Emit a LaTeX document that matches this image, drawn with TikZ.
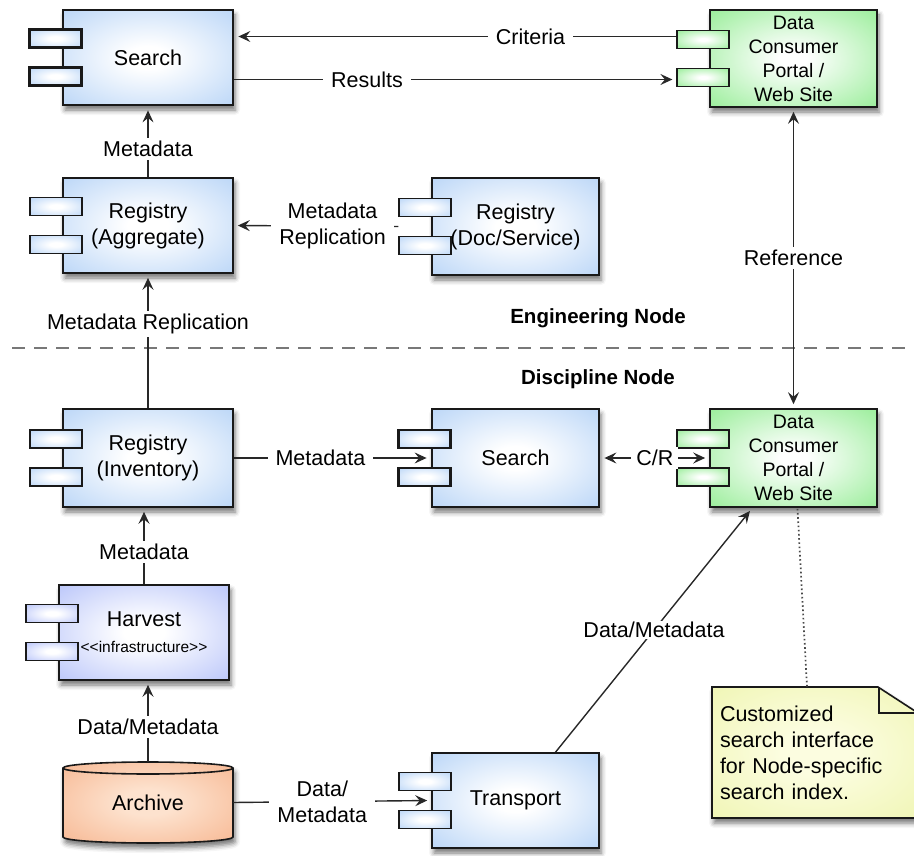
\documentclass[tikz,border=0pt]{standalone}
\usepackage{fontspec}
\setmainfont{Liberation Sans}
\usetikzlibrary{calc,arrows.meta,shadows,shadows.blur}

\definecolor{compblue}{RGB}{160,198,244}
\definecolor{compgreen}{RGB}{122,232,122}
\definecolor{complav}{RGB}{160,176,248}
\definecolor{comporange}{RGB}{244,166,122}
\definecolor{orangein}{RGB}{253,226,206}
\definecolor{noteyellow}{RGB}{234,242,160}
\definecolor{notein}{RGB}{252,253,224}
\definecolor{boxline}{RGB}{25,25,25}
\definecolor{connc}{RGB}{40,40,40}
\definecolor{sepc}{RGB}{120,120,120}

\pgfdeclareradialshading{blueshade}{\pgfpoint{0bp}{0bp}}{color(0bp)=(white); color(6bp)=(white); color(48bp)=(compblue); color(100bp)=(compblue)}
\pgfdeclareradialshading{greenshade}{\pgfpoint{0bp}{0bp}}{color(0bp)=(white); color(4bp)=(white); color(46bp)=(compgreen); color(100bp)=(compgreen)}
\pgfdeclareradialshading{lavshade}{\pgfpoint{0bp}{0bp}}{color(0bp)=(white); color(6bp)=(white); color(48bp)=(complav); color(100bp)=(complav)}
\pgfdeclareradialshading{orangeshade}{\pgfpoint{0bp}{0bp}}{color(0bp)=(orangein); color(8bp)=(orangein); color(48bp)=(comporange); color(100bp)=(comporange)}
\pgfdeclareradialshading{yellowshade}{\pgfpoint{0bp}{0bp}}{color(0bp)=(notein); color(8bp)=(notein); color(50bp)=(noteyellow); color(100bp)=(noteyellow)}

\newcommand\mainfs{\fontsize{21.5}{26}\selectfont}
\newcommand\portalfs{\fontsize{19.5}{24}\selectfont}
\newcommand\smallfs{\fontsize{15.5}{17}\selectfont}
\newcommand\boldfs{\fontsize{20.5}{24}\selectfont\bfseries}

\newcommand\comptabs[3]{%
  \node[tabbox, shading=#2, line width=#3] (#1-t1) at ($(#1.west)+(-6,-19)$) {};
  \node[tabbox, shading=#2, line width=#3] (#1-t2) at ($(#1.west)+(-6,19)$) {};
}

\begin{document}
\begin{tikzpicture}[x=1pt,y=-1pt,
  boxshadow/.style={blur shadow={shadow xshift=2pt, shadow yshift=-5pt, shadow blur radius=5pt, shadow opacity=55}},
  comp/.style={draw=boxline, line width=1.6pt, minimum width=170pt, minimum height=95pt,
    inner sep=0pt, align=center, font=\mainfs, boxshadow},
  tabbox/.style={draw=boxline, minimum width=52pt, minimum height=18pt, inner sep=0pt},
  conn/.style={draw=connc, line width=1.4pt},
  tip/.tip={Stealth[length=12pt,width=11pt,inset=4.5pt]},
  arr/.style={conn, -tip, shorten >=4pt},
  darr/.style={conn, tip-tip, shorten >=4pt, shorten <=4pt},
  lab/.style={fill=white, inner xsep=8pt, inner ysep=3pt, font=\mainfs, align=center, text=black},
  seplbl/.style={font=\boldfs},
  sepline/.style={draw=sepc, line width=2pt, dash pattern=on 13pt off 9pt},
  dotline/.style={draw=connc!85, line width=1.7pt, dash pattern=on 1.6pt off 2.6pt},
  notetext/.style={text width=190pt, inner xsep=8pt, inner ysep=0pt, minimum height=131pt, align=left, font=\mainfs}
]
\useasboundingbox (0,0) rectangle (914,856);

% separator
\draw[sepline] (12,348) -- (914,348);
\node[seplbl] (eng) at (598,318) {Engineering Node};
\node[seplbl] (dis) at (598,379) {Discipline Node};

% components
\node[comp, shading=blueshade, line width=2.8pt] (s1) at (148,57.5) {Search};
\comptabs{s1}{blueshade}{2.8pt}
\node[comp, shading=blueshade] (agg) at (148,225.5) {Registry\\(Aggregate)};
\comptabs{agg}{blueshade}{1.6pt}
\node[comp, shading=blueshade, minimum width=167pt, minimum height=97pt] (doc) at (515.5,226.5) {Registry\\(Doc/Service)};
\comptabs{doc}{blueshade}{1.6pt}
\node[comp, shading=greenshade, minimum width=167pt, minimum height=97pt, font=\portalfs] (por1) at (793.5,58.5) {Data\\Consumer\\Portal /\\Web Site};
\comptabs{por1}{greenshade}{1.6pt}
\node[comp, shading=blueshade, minimum height=98pt] (inv) at (148,458) {Registry\\(Inventory)};
\comptabs{inv}{blueshade}{1.6pt}
\node[comp, shading=blueshade, line width=2.8pt, minimum width=167pt, minimum height=98pt] (s2) at (515.5,458) {Search};
\comptabs{s2}{blueshade}{2.8pt}
\node[comp, shading=greenshade, minimum width=167pt, minimum height=98pt, font=\portalfs] (por2) at (793.5,458) {Data\\Consumer\\Portal /\\Web Site};
\comptabs{por2}{greenshade}{1.6pt}
\node[comp, shading=lavshade] (harv) at (144,632.5) {Harvest\\{\smallfs <\kern0pt<infrastructure>\kern0pt>}};
\comptabs{harv}{lavshade}{1.6pt}
\node[comp, shading=blueshade, minimum width=167pt] (trans) at (515.5,800.5) {Transport};
\comptabs{trans}{blueshade}{1.6pt}

% archive cylinder
\path[boxshadow, shading=orangeshade, draw=boxline, line width=1.6pt]
  (63,768) -- (63,837) arc[start angle=180, end angle=0, x radius=85, y radius=6]
  -- (233,768) arc[start angle=0, end angle=-180, x radius=85, y radius=6] -- cycle;
\draw[boxline, line width=1.6pt] (63,768) arc[start angle=180, end angle=0, x radius=85, y radius=6];
\node[minimum width=170pt, minimum height=81pt, inner sep=0pt, font=\mainfs] (archive) at (148,802.5) {Archive};

% note
\path[boxshadow, shading=yellowshade, draw=boxline, line width=1.6pt]
  (712,687) -- (878,687) -- (918,713) -- (918,818) -- (712,818) -- cycle;
\draw[boxline, line width=1.6pt] (879,687) -- (879,713) -- (918,713);
\node[notetext] (note) at (815,752.5) {Customized\\search interface\\for Node-specific\\search index.};

% connectors
\draw[arr] ($(por1-t1.west)+(0,-3)$) -- node[lab, pos=0.33] {Criteria} ($(s1.east|-por1-t1.west)+(0,-3)$);
\draw[arr] ($(s1.east|-por1-t2.west)+(0,2)$) -- node[lab, pos=0.30] {Results} ($(por1-t2.west)+(0,2)$);
\draw[arr] (agg.north) -- node[lab, pos=0.4] {Metadata} (s1.south);
\draw[arr] (doc-t1.west|-doc.west) -- node[lab, pos=0.40] {Metadata\\Replication} (agg.east);
\draw[arr] (inv.north) -- node[lab, pos=0.63] {Metadata Replication} (agg.south);
\draw[arr] (inv.east) -- node[lab, pos=0.44] {Metadata} (s2.west);
\draw[darr] (s2.east) -- node[lab, inner xsep=5pt] {C/R} (por2.west);
\draw[darr] (por2.north) -- node[lab] {Reference} (por1.south);
\draw[arr] (harv.north) -- node[lab, pos=0.42] {Metadata} (harv.north|-inv.south);
\draw[arr] (archive.north) -- node[lab, pos=0.43] {Data/Metadata} (archive.north|-harv.south);
\draw[arr] (archive.east) -- node[lab, pos=0.45] {Data/\\Metadata} (trans.west);
\draw[arr] ($(trans.north)+(40,0)$) -- node[lab, inner xsep=4pt, inner ysep=1pt] {Data/Metadata} ($(por2.south)+(-41,0)$);
\draw[dotline] ($(por2.south)+(4,1)$) -- ($(note.north)+(-8,0)$);
\end{tikzpicture}
\end{document}
